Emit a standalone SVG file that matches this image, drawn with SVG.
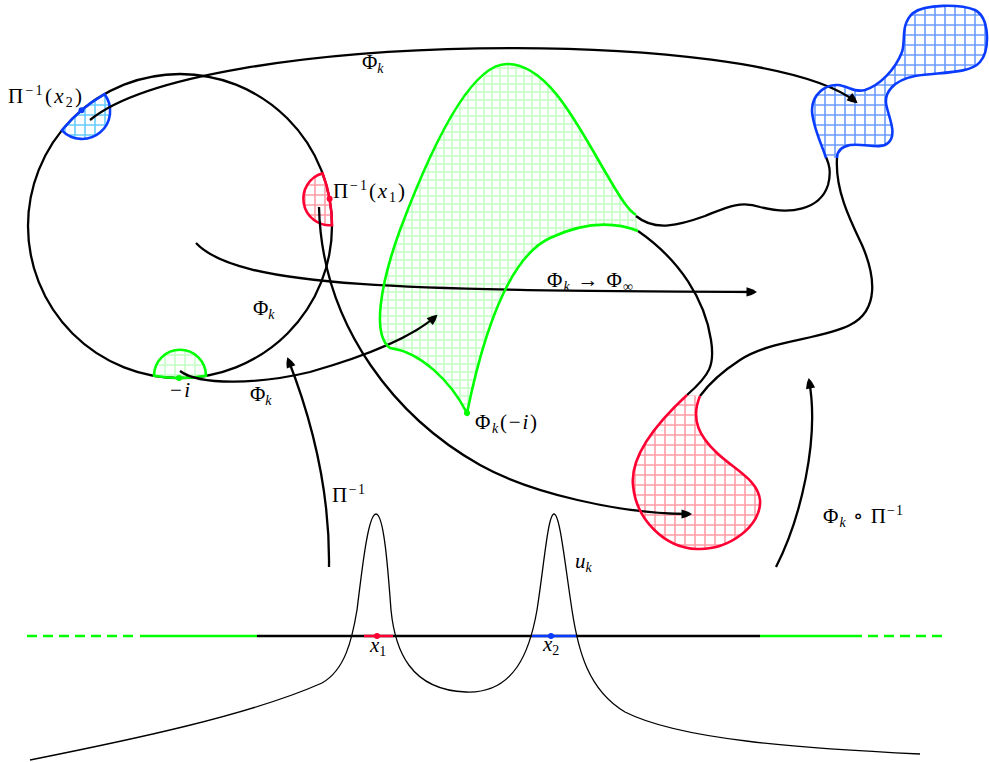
<svg xmlns="http://www.w3.org/2000/svg" width="989" height="762" viewBox="0 0 989 762">
<style>
 .bk{fill:none;stroke:#000;stroke-width:2.3;stroke-linecap:butt}
 .ar{marker-end:url(#arr)}
 .thin{fill:none;stroke:#000;stroke-width:1.3}
 .gs{fill:none;stroke:#00ff00;stroke-width:2.6}
 .rs{fill:none;stroke:#ff0033;stroke-width:2.6}
 .bs{fill:none;stroke:#0a3cff;stroke-width:2.6}
 text{font-family:"Liberation Serif","DejaVu Serif",serif;font-size:21px;fill:#000}
 .it{font-style:italic}
 .sm{font-size:14px}
</style>
<defs>
 <marker id="arr" viewBox="-12 -6 14 12" refX="-2" refY="0" markerWidth="14" markerHeight="12" markerUnits="userSpaceOnUse" orient="auto">
  <path d="M0,0 Q-4,-3 -10.5,-4.6 L-10.5,4.6 Q-4,3 0,0 Z" fill="#000"/>
 </marker>
 <pattern id="pgL" width="8" height="8" patternUnits="userSpaceOnUse"><path d="M0 4H8M4 0V8" stroke="#c2ffc2" stroke-width="1.5"/></pattern>
 <pattern id="pg" width="10" height="10" patternUnits="userSpaceOnUse"><path d="M0 5H10M5 0V10" stroke="#c2ffc2" stroke-width="1.5"/></pattern>
 <pattern id="pr" width="10" height="10" patternUnits="userSpaceOnUse"><path d="M0 5H10M5 0V10" stroke="#ff9ca6" stroke-width="1.6"/></pattern>
 <pattern id="pb" width="10" height="10" patternUnits="userSpaceOnUse"><path d="M0 5H10M5 0V10" stroke="#6b9bff" stroke-width="1.6"/></pattern>
 <pattern id="pc" width="10" height="10" patternUnits="userSpaceOnUse"><path d="M0 5H10M5 0V10" stroke="#66ccff" stroke-width="1.6"/></pattern>
</defs>

<g id="disk">
 <circle cx="180" cy="226" r="152" class="bk"/>
</g>

<g id="half-disk-x2">
 <path d="M 61.9 130.3 A 28 28 0 0 0 104.5 94.1 A 152 152 0 0 0 61.9 130.3 Z" class="bs" style="fill:url(#pc)"/>
 <circle cx="81.5" cy="110.3" r="3" fill="#0a3cff"/>
</g>
<g id="half-disk-x1">
 <path d="M 322.6 173.3 A 26.5 26.5 0 0 0 332 225.2 A 152 152 0 0 0 322.6 173.3 Z" class="rs" style="fill:url(#pr)"/>
 <circle cx="329.6" cy="198.8" r="3" fill="#ff0033"/>
</g>
<g id="half-disk-minus-i">
 <path d="M 154 375.8 A 26 26 0 0 1 206 375.8 A 152 152 0 0 1 154 375.8 Z" class="gs" style="fill:url(#pg)"/>
 <circle cx="179" cy="378" r="3" fill="#00ff00"/>
</g>

<g id="green-region">
 <path d="M 467 413 C 450 380, 420 352, 390 348 C 372 335, 380 285, 400 230 C 430 150, 470 64, 507 64 C 550 64, 580 130, 610 180 C 620 197, 628 210, 636 215 L 638 231 C 610 220, 580 224, 550 238 C 520 252, 490 300, 467 413 Z" fill="url(#pgL)"/>
</g>

<g id="blue-blob">
 <path d="M 826 158 C 822 145, 812 125, 812 110 C 812 95, 825 84, 838 85 C 848 86, 855 93, 865 90 C 880 85, 895 70, 902 52 C 906 40, 900 25, 913 13 C 925 4, 960 4, 975 10 C 990 18, 990 50, 980 62 C 970 74, 940 72, 915 76 C 895 80, 882 92, 887 108 C 890 120, 897 135, 888 143 C 880 150, 865 143, 850 145 C 840 147, 837 152, 837 158 Z" fill="url(#pb)"/>
</g>

<g id="red-blob">
 <path d="M 687 395 C 660 420, 630 455, 633 485 C 636 520, 665 548, 697 549 C 730 550, 762 525, 760 500 C 758 480, 735 470, 717 453 C 700 437, 690 420, 700 396 Z" fill="url(#pr)"/>
</g>

<g id="axis">
 <line x1="27" y1="636" x2="135" y2="636" stroke="#00ff00" stroke-width="2.5" stroke-dasharray="10 6"/>
 <line x1="140" y1="636" x2="257" y2="636" stroke="#00ff00" stroke-width="2.5"/>
 <line x1="257" y1="636" x2="760" y2="636" stroke="#000" stroke-width="2.5"/>
 <line x1="760" y1="636" x2="862" y2="636" stroke="#00ff00" stroke-width="2.5"/>
 <line x1="868" y1="636" x2="945" y2="636" stroke="#00ff00" stroke-width="2.5" stroke-dasharray="10 6"/>
 <line x1="364" y1="636" x2="393" y2="636" stroke="#ff0033" stroke-width="2.5"/>
 <line x1="532" y1="636" x2="577" y2="636" stroke="#0a3cff" stroke-width="2.5"/>
 <circle cx="377" cy="636" r="3" fill="#ff0033"/>
 <circle cx="551" cy="636" r="3" fill="#0a3cff"/>
</g>

<g id="graph-uk">
 <path class="thin" d="M 30 760 C 130 740, 250 715, 322 683 C 345 670, 352 640, 357 610 C 362 570, 368 514, 376 514 C 384 514, 388 570, 391 610 C 395 650, 410 690, 466 692 C 515 694, 530 650, 537 610 C 544 565, 548 514, 554 514 C 560 514, 565 565, 572 610 C 578 650, 588 690, 625 712 C 680 740, 800 748, 920 754"/>
</g>

<g id="connectors">
 <path class="bk ar" d="M 90 120 C 200 30, 760 25, 856 102"/>
 <path class="bk ar" d="M 196 243 C 240 290, 420 290, 755 292"/>
 <path class="bk ar" d="M 180 371 C 200 386, 260 384, 310 372 C 370 355, 415 335, 436 316"/>
 <path class="bk ar" d="M 329 567 C 330 490, 312 420, 288 359"/>
 <path class="bk ar" d="M 319 207 C 322 330, 400 420, 480 465 C 530 493, 620 514, 690 514"/>
 <path class="bk ar" d="M 776 567 C 800 520, 820 440, 809 380"/>
 <path class="bk" d="M 636 216 C 655 232, 680 225, 705 216 C 725 208, 740 200, 760 207 C 790 215, 820 210, 828 185 C 832 170, 828 162, 826 157"/>
 <path class="bk" d="M 638 231 C 680 260, 705 300, 711 340 C 715 365, 710 375, 687 395"/>
 <path class="bk" d="M 837 158 C 835 190, 850 220, 862 245 C 875 275, 880 310, 850 325 C 820 340, 770 340, 740 360 C 720 373, 708 385, 700 396"/>
</g>

<g id="green-outline">
 <path class="gs" d="M 636 215 C 628 210, 620 197, 610 180 C 580 130, 550 64, 507 64 C 470 64, 430 150, 400 230 C 380 285, 372 335, 390 348 C 420 352, 450 380, 467 413 C 490 300, 520 252, 550 238 C 580 224, 610 220, 638 231"/>
 <circle cx="467" cy="413" r="3" fill="#00ff00"/>
</g>
<g id="blue-outline">
 <path class="bs" d="M 826 158 C 822 145, 812 125, 812 110 C 812 95, 825 84, 838 85 C 848 86, 855 93, 865 90 C 880 85, 895 70, 902 52 C 906 40, 900 25, 913 13 C 925 4, 960 4, 975 10 C 990 18, 990 50, 980 62 C 970 74, 940 72, 915 76 C 895 80, 882 92, 887 108 C 890 120, 897 135, 888 143 C 880 150, 865 143, 850 145 C 840 147, 837 152, 837 158"/>
</g>
<g id="red-outline">
 <path class="rs" d="M 687 395 C 660 420, 630 455, 633 485 C 636 520, 665 548, 697 549 C 730 550, 762 525, 760 500 C 758 480, 735 470, 717 453 C 700 437, 690 420, 700 396"/>
</g>

<g id="labels">
 <text x="8" y="103" textLength="74" lengthAdjust="spacing">Π<tspan class="sm" dy="-8">−1</tspan><tspan dy="8">(</tspan><tspan class="it">x</tspan><tspan class="sm" dy="4">2</tspan><tspan dy="-4">)</tspan></text>
 <text x="333" y="198" textLength="72" lengthAdjust="spacing">Π<tspan class="sm" dy="-8">−1</tspan><tspan dy="8">(</tspan><tspan class="it">x</tspan><tspan class="sm" dy="4">1</tspan><tspan dy="-4">)</tspan></text>
 <text x="362" y="69">Φ<tspan class="sm it" dy="4">k</tspan></text>
 <text x="253" y="315">Φ<tspan class="sm it" dy="4">k</tspan></text>
 <text x="250" y="401">Φ<tspan class="sm it" dy="4">k</tspan></text>
 <text x="170" y="397" textLength="20" lengthAdjust="spacing">−<tspan class="it">i</tspan></text>
 <text x="475" y="429" textLength="62" lengthAdjust="spacing">Φ<tspan class="sm it" dy="4">k</tspan><tspan dy="-4">(−</tspan><tspan class="it">i</tspan>)</text>
 <text x="547" y="287" textLength="86" lengthAdjust="spacing">Φ<tspan class="sm it" dy="4">k</tspan><tspan dy="-4"> → Φ</tspan><tspan class="sm" dy="4">∞</tspan></text>
 <text x="332" y="502" textLength="33" lengthAdjust="spacing">Π<tspan class="sm" dy="-8">−1</tspan></text>
 <text x="575" y="568" class="it">u<tspan class="sm" dy="4">k</tspan></text>
 <text x="370" y="652" class="it">x<tspan class="sm" dy="4" font-style="normal">1</tspan></text>
 <text x="543" y="651" class="it">x<tspan class="sm" dy="4" font-style="normal">2</tspan></text>
 <text x="823" y="523" textLength="80" lengthAdjust="spacing">Φ<tspan class="sm it" dy="4">k</tspan><tspan dy="-4"> ∘ Π</tspan><tspan class="sm" dy="-8">−1</tspan></text>
</g>
</svg>
